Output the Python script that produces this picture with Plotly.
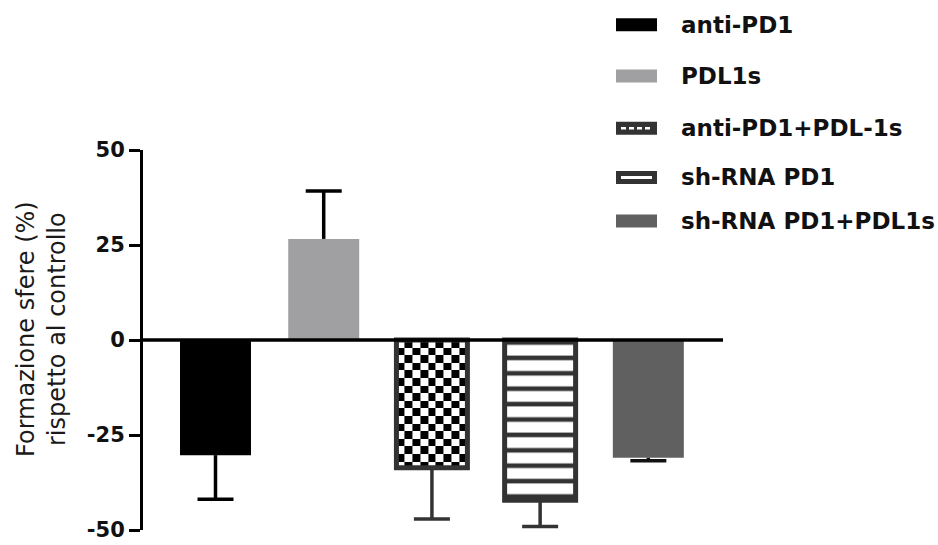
import numpy as np
import plotly.graph_objects as go

# ---- data -------------------------------------------------------------
groups = ["anti-PD1", "PDL1s", "anti-PD1+PDL-1s", "sh-RNA PD1", "sh-RNA PD1+PDL1s"]
values = [-30.3, 26.6, -33.6, -42.2, -31.0]   # % sphere formation vs control
errors = [11.6, 12.6, 13.5, 6.9, 0.8]         # one-sided error (away from zero)
y_ticks = [-50, -25, 0, 25, 50]
y_title = "Formazione sfere (%)<br>rispetto al controllo"

# ---- styling ----------------------------------------------------------
W, H = 938, 545
L, R, T, B = 143, 215, 150, 15
PLOT_W, PLOT_H = W - L - R, H - T - B
X_RANGE = [-0.67, 4.69]
BAR_W = 0.656
CAP_HALF = 18 * (X_RANGE[1] - X_RANGE[0]) / PLOT_W   # 18 px in data units

DARK = "#333333"
fills = ["#000000", "#a0a0a2", "rgba(0,0,0,0)", "#ffffff", "#606060"]
edge_colors = ["#000000", "#a0a0a2", DARK, DARK, "#606060"]
edge_widths = [0, 0, 5, 5, 0]
err_colors = ["#000000", "#000000", DARK, DARK, "#111111"]
swatch_fill = ["#000000", "#a0a0a2", DARK, DARK, "#606060"]

BOLD = dict(family="DejaVu Sans", weight="bold", color="#111111")


def px_x(px):
    return (px - L) / PLOT_W


def px_y(py):
    return (H - B - py) / PLOT_H


xs = np.arange(len(groups))
fig = go.Figure()

# checkerboard texture for the third group (drawn under its outlined bar)
c, v = xs[2], values[2]
n_cols = 9
x_edges = np.linspace(c - BAR_W / 2, c + BAR_W / 2, n_cols + 1)
y_td = list(np.arange(0, v, -2.0)) + [v]
z_td = [[(i + j) % 2 for j in range(n_cols)] for i in range(len(y_td) - 1)]
fig.add_trace(go.Heatmap(
    x=x_edges, y=y_td[::-1], z=z_td[::-1],
    colorscale=[[0, "#ffffff"], [1, "#000000"]], zmin=0, zmax=1,
    showscale=False, hoverinfo="skip",
))

# bars
for i, (g, val) in enumerate(zip(groups, values)):
    marker = dict(color=fills[i],
                  line=dict(color=edge_colors[i], width=edge_widths[i]))
    if i == 3:
        marker["pattern"] = dict(shape="-", fgcolor=DARK, bgcolor="#ffffff",
                                 size=15.4, solidity=0.3, fillmode="replace")
    fig.add_trace(go.Bar(x=[xs[i]], y=[val], width=BAR_W, name=g,
                         marker=marker, showlegend=False))

# one-sided error bars (stem + cap)
for i, (val, err) in enumerate(zip(values, errors)):
    end = val + np.sign(val) * err
    fig.add_trace(go.Scatter(
        x=[xs[i], xs[i], None, xs[i] - CAP_HALF, xs[i] + CAP_HALF],
        y=[val, end, None, end, end],
        mode="lines", line=dict(color=err_colors[i], width=3.5),
        showlegend=False, hoverinfo="skip",
    ))

shapes = []
annotations = []

# zero line on top of the bars
shapes.append(dict(type="line", xref="paper", yref="y", x0=0, x1=1, y0=0, y1=0,
                   line=dict(color="#000000", width=3.5), layer="above"))

# legend: swatches + labels
row_y = [24.7, 76, 128.3, 177.5, 221]
for i, g in enumerate(groups):
    cy = row_y[i]
    shapes.append(dict(type="rect", xref="paper", yref="paper",
                       x0=px_x(616), x1=px_x(657),
                       y0=px_y(cy + 6.5), y1=px_y(cy - 6.5),
                       fillcolor=swatch_fill[i], line=dict(width=0)))
    if i == 2:
        shapes.append(dict(type="line", xref="paper", yref="paper",
                           x0=px_x(621), x1=px_x(653), y0=px_y(cy), y1=px_y(cy),
                           line=dict(color="#ffffff", width=2.5, dash="5px,3px")))
    if i == 3:
        shapes.append(dict(type="line", xref="paper", yref="paper",
                           x0=px_x(621), x1=px_x(652), y0=px_y(cy), y1=px_y(cy),
                           line=dict(color="#ffffff", width=3)))
    annotations.append(dict(text=g, xref="paper", yref="paper",
                            x=px_x(679), y=px_y(cy), xanchor="left", yanchor="middle",
                            showarrow=False, font=dict(size=23, **BOLD)))

# y-axis title
annotations.append(dict(text=y_title, xref="paper", yref="paper",
                        x=px_x(41), y=px_y(329), xanchor="center", yanchor="middle",
                        textangle=-90, showarrow=False, align="center",
                        font=dict(family="DejaVu Sans", size=24, color="#1a1a1a")))

fig.update_layout(
    width=W, height=H,
    margin=dict(l=L, r=R, t=T, b=B, pad=0, autoexpand=False),
    paper_bgcolor="#ffffff", plot_bgcolor="#ffffff",
    barmode="overlay",
    showlegend=False,
    shapes=shapes, annotations=annotations,
    xaxis=dict(range=X_RANGE, visible=False, fixedrange=True, automargin=False),
    yaxis=dict(range=[-50, 50], tickvals=y_ticks, ticktext=[str(t) for t in y_ticks],
               automargin=False,
               showgrid=False, zeroline=False,
               showline=True, linecolor="#000000", linewidth=3,
               ticks="outside", ticklen=11, tickwidth=3, tickcolor="#000000",
               tickfont=dict(size=21, **BOLD)),
)

fig.write_html("out.html")
